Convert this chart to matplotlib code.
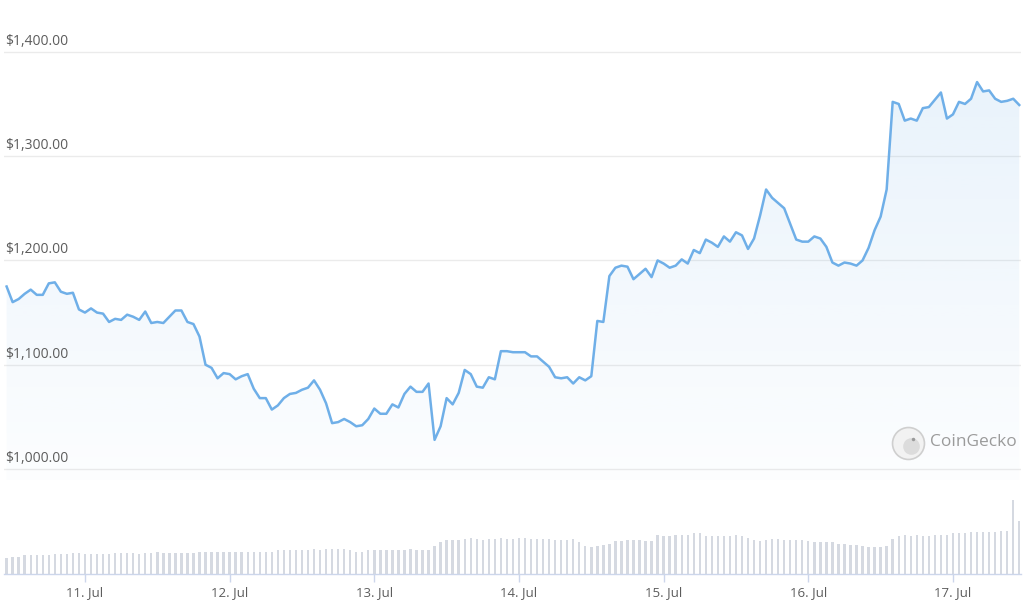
import numpy as np
import pandas as pd
import matplotlib
matplotlib.use("Agg")
import matplotlib.pyplot as plt
import matplotlib.dates as mdates
from matplotlib.colors import to_rgb

plt.rcParams['font.family'] = ['Open Sans', 'DejaVu Sans']

# hourly price (USD), 10 Jul 11:00 -> 17 Jul 11:00
price = [1175, 1160, 1163, 1168, 1172, 1167, 1167, 1178, 1179, 1170,
         1168, 1169, 1153, 1150, 1154, 1150, 1149, 1141, 1144, 1143,
         1148, 1146, 1143, 1151, 1140, 1141, 1140, 1146, 1152, 1152,
         1141, 1139, 1127, 1100, 1097, 1087, 1092, 1091, 1086, 1089,
         1091, 1077, 1068, 1068, 1057, 1061, 1068, 1072, 1073, 1076,
         1078, 1085, 1076, 1063, 1044, 1045, 1048, 1045, 1041, 1042,
         1048, 1058, 1053, 1053, 1062, 1059, 1072, 1079, 1074, 1074,
         1082, 1028, 1041, 1068, 1062, 1073, 1095, 1091, 1079, 1078,
         1088, 1086, 1113, 1113, 1112, 1112, 1112, 1108, 1108, 1103,
         1098, 1088, 1087, 1088, 1082, 1088, 1085, 1089, 1142, 1141,
         1185, 1193, 1195, 1194, 1182, 1187, 1192, 1184, 1200, 1197,
         1193, 1195, 1201, 1197, 1210, 1207, 1220, 1217, 1213, 1223,
         1218, 1227, 1224, 1211, 1221, 1243, 1268, 1260, 1255, 1250,
         1235, 1220, 1218, 1218, 1223, 1221, 1213, 1198, 1195, 1198,
         1197, 1195, 1200, 1212, 1229, 1242, 1268, 1352, 1350, 1334,
         1336, 1334, 1346, 1347, 1354, 1361, 1336, 1340, 1352, 1350,
         1355, 1371, 1362, 1363, 1355, 1352, 1353, 1355, 1349]

# 24h volume, hundreds of millions USD
volume = [47, 51, 51, 55, 55, 55, 55, 55, 59, 59, 59, 63, 63, 59,
          59, 59, 59, 59, 63, 63, 63, 63, 59, 63, 63, 66, 62, 62, 62, 62, 62, 62, 66, 66, 66, 66, 66, 66,
          66, 66, 66, 66, 66, 66, 66, 70, 70, 70, 70, 70, 70, 74, 70, 74, 74, 74, 74, 70, 66, 66, 70, 70,
          70, 70, 70, 70, 70, 74, 70, 70, 70, 82, 93, 100, 100, 100, 103, 107, 103, 100, 103, 103, 107, 103, 103, 107,
          107, 103, 103, 103, 103, 100, 100, 100, 103, 93, 82, 78, 82, 85, 89, 96, 96, 100, 100, 100, 96, 96, 115, 112,
          112, 115, 115, 115, 119, 119, 112, 112, 112, 112, 112, 115, 112, 107, 100, 96, 100, 103, 103, 100, 100, 100, 100, 96,
          93, 93, 93, 93, 89, 89, 85, 85, 82, 78, 78, 78, 82, 104, 112, 115, 112, 115, 112, 112, 115, 115, 115, 119,
          119, 119, 122, 122, 122, 122, 122, 126, 126, 218, 157]

price_ticks = [1000, 1100, 1200, 1300, 1400]

times = pd.date_range("2022-07-10 11:00", periods=len(price), freq="h")
x = mdates.date2num(times.to_pydatetime())

line_color = "#6fafe8"
grid_color = "#ebebeb"
text_color = "#5c5c5c"

fig = plt.figure(figsize=(10.24, 6.11), dpi=100)
W, H = 1024, 611
ax = fig.add_axes([4 / W, (H - 480) / H, 1017 / W, 450 / H])
axv = fig.add_axes([4 / W, (H - 574) / H, 1017 / W, 94 / H], sharex=ax)

xmin, xmax = x[0] - 0.018, x[0] + 7.012
ylo, yhi = 989.5, 1420.9
ax.set_xlim(xmin, xmax)
ax.set_ylim(ylo, yhi)

# grid + labels
for v in price_ticks:
    ax.axhline(v, color=grid_color, lw=1, zorder=0)
    ax.text(0.001, v + 3, f"${v:,.2f}", transform=ax.get_yaxis_transform(),
            ha="left", va="bottom", fontsize=10, color=text_color)

# gradient fill under line
poly = ax.fill_between(x, price, ylo, color="none", lw=0)
rgb = to_rgb(line_color)
n = 256
grad = np.zeros((n, 1, 4))
grad[:, 0, :3] = rgb
grad[:, 0, 3] = np.linspace(0.02, 0.17, n)
im = ax.imshow(grad, extent=[xmin, xmax, ylo, yhi], origin="lower",
               aspect="auto", zorder=1, interpolation="bilinear")
im.set_clip_path(poly.get_paths()[0], transform=ax.transData)

ax.plot(x, price, color=line_color, lw=1.8, zorder=3, solid_joinstyle="round")

ax.set_axis_off()

# volume bars
axv.bar(x, volume, width=0.4 / 24, color="#d5d9e1", zorder=2)
axv.set_ylim(0, 276)
for s in ["top", "left", "right"]:
    axv.spines[s].set_visible(False)
axv.spines["bottom"].set_color("#ccd6eb")
axv.spines["bottom"].set_linewidth(1)
axv.set_yticks([])
axv.xaxis.set_major_locator(mdates.DayLocator())
axv.xaxis.set_major_formatter(mdates.DateFormatter("%-d. %b"))
axv.tick_params(axis="x", direction="out", length=6, width=1, color="#ccd6eb",
                labelsize=9.5, labelcolor=text_color, pad=3)
plt.setp(ax.get_xticklabels(), visible=False)

# watermark
fig.add_artist(plt.Line2D([908 / W], [(H - 443) / H], marker="o", markersize=23,
                          markerfacecolor="#f2f2f2", markeredgecolor="#cfcfcf",
                          markeredgewidth=1.2, transform=fig.transFigure))
fig.add_artist(plt.Line2D([911 / W], [(H - 446) / H], marker="o", markersize=12,
                          markerfacecolor="#dcdcdc", markeredgecolor="none",
                          transform=fig.transFigure))
fig.add_artist(plt.Line2D([913 / W], [(H - 439) / H], marker="o", markersize=2.5,
                          markerfacecolor="#9a9a9a", markeredgecolor="none",
                          transform=fig.transFigure))
fig.text(930 / W, (H - 442) / H, "CoinGecko", ha="left", va="center",
         fontsize=12.5, color="#9b9b9b")

fig.savefig("out.png", dpi=100, facecolor="white")
